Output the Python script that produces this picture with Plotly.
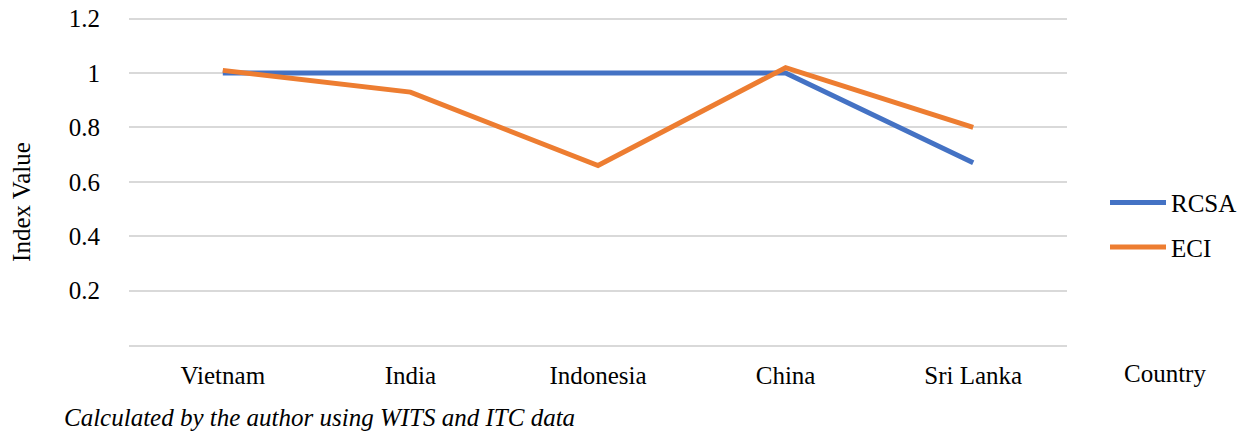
import plotly.graph_objects as go

countries = ["Vietnam", "India", "Indonesia", "China", "Sri Lanka"]
rcsa = [1.0, 1.0, 1.0, 1.0, 0.67]
eci = [1.01, 0.93, 0.66, 1.02, 0.80]
y_tickvals = [0.2, 0.4, 0.6, 0.8, 1.0, 1.2]
y_ticktext = ["0.2", "0.4", "0.6", "0.8", "1", "1.2"]

OFF = 8  # page body margin
W, H = 1253 - 2 * OFF, 432 - OFF
Y_MAX = 1.21
# plot area in reference-screen pixels (0 at y=345, 1.2 at y=19)
PPU = (345 - 19) / 1.2
L, R, B = 129, 1067, 345
T = B - Y_MAX * PPU
FONT = "Liberation Serif"
FS = 25

def px_x(x):
    return (x - L) / (R - L)

def px_y(y):
    return (B - y) / (B - T)

fig = go.Figure()
fig.add_trace(go.Scatter(x=countries, y=rcsa, mode="lines", name="RCSA",
                         line=dict(color="#4472C4", width=5), legendgroup="a"))
fig.add_trace(go.Scatter(x=countries, y=eci, mode="lines", name="ECI",
                         line=dict(color="#ED7D31", width=5), legendgroup="b"))

fig.update_layout(
    width=W, height=H,
    margin=dict(l=L - OFF, r=W - (R - OFF), t=T - OFF, b=H - (B - OFF), autoexpand=False),
    paper_bgcolor="white", plot_bgcolor="white",
    font=dict(family=FONT, size=FS, color="#000000"),
    showlegend=True,
    legend=dict(x=px_x(1105), y=px_y(180), xanchor="left", yanchor="top",
                font=dict(size=FS, family=FONT), tracegroupgap=9,
                itemwidth=56, bgcolor="rgba(0,0,0,0)"),
    xaxis=dict(type="category", range=[-0.5, 4.5], showgrid=False,
               showline=True, linecolor="#D9D9D9", linewidth=1.5,
               ticks="outside", tickcolor="rgba(0,0,0,0)", ticklen=7,
               tickfont=dict(size=FS, family=FONT)),
    yaxis=dict(range=[0, Y_MAX], tickvals=y_tickvals, ticktext=y_ticktext,
               showgrid=True, gridcolor="#D9D9D9", gridwidth=1.5,
               zeroline=False, showline=False, ticklabeloverflow="allow",
               ticks="outside", tickcolor="rgba(0,0,0,0)", ticklen=23,
               tickfont=dict(size=FS, family=FONT)),
    annotations=[
        dict(text="Index Value", textangle=-90, xref="paper", yref="paper",
             x=px_x(22), y=px_y(202), xanchor="center", yanchor="middle",
             showarrow=False, font=dict(size=FS, family=FONT)),
        dict(text="Country", xref="paper", yref="paper",
             x=px_x(1122), y=px_y(373), xanchor="left", yanchor="middle",
             showarrow=False, font=dict(size=FS, family=FONT)),
        dict(text="<i>Calculated by the author using WITS and ITC data</i>",
             xref="paper", yref="paper",
             x=px_x(62), y=px_y(417), xanchor="left", yanchor="middle",
             showarrow=False, font=dict(size=FS, family=FONT)),
    ],
)

fig.write_html("out.html")
